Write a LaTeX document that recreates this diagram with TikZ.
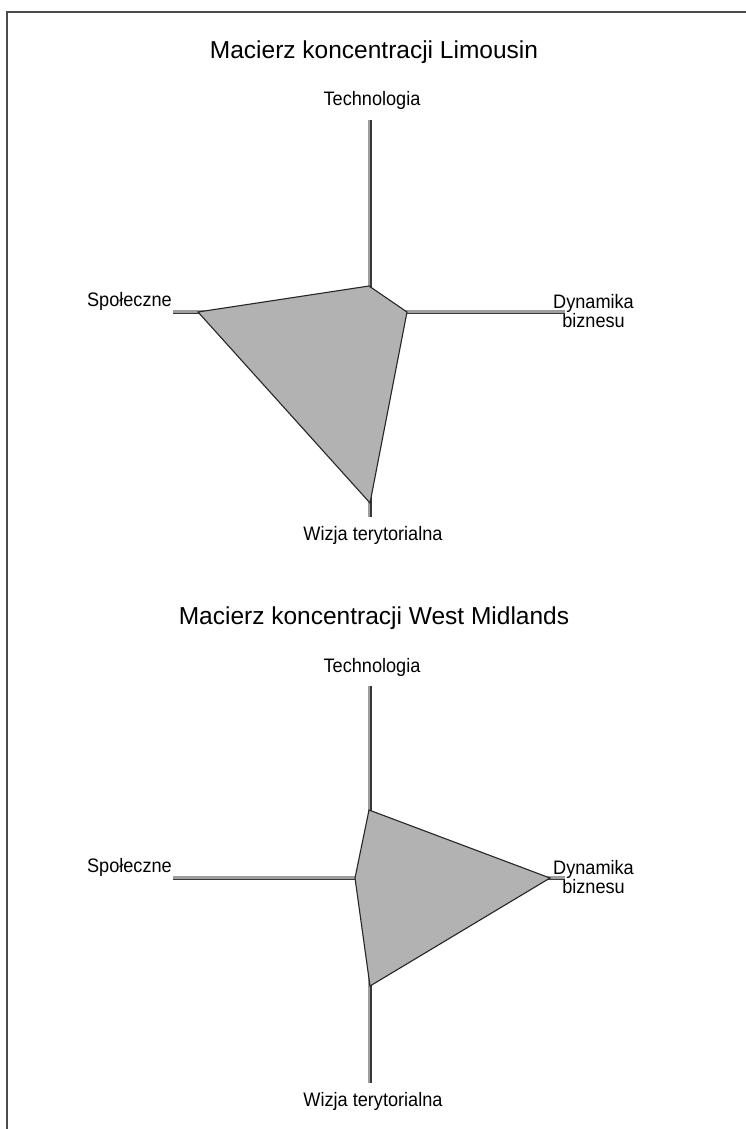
\documentclass[tikz,border=0pt]{standalone}
\usepackage{fontspec}
\setmainfont{Liberation Sans}
\newcommand{\narrowtext}[1]{\scalebox{0.93}[1]{#1}}
\begin{document}
\begin{tikzpicture}[x=1pt,y=-1pt,
  titletext/.style={inner sep=0pt,anchor=base,font=\fontsize{24.5}{28}\selectfont},
  axislabel/.style={inner sep=0pt,font=\fontsize{19.5}{20}\selectfont},
  axisshade/.style={draw=black!38,line width=2.4pt},
  axiscore/.style={draw=black!78,line width=1.6pt},
  area/.style={fill=black!30,draw=black!85,line width=1.1pt,line join=miter}]
\useasboundingbox (0,0) rectangle (746,1129);
\fill[white] (0,0) rectangle (746,1129);
% frame along the top and left edges
\draw[black!70,line width=1.5pt] (7,1129) -- (7,12) -- (746,12);

% one chart per row: vertical offset, title, polygon vertices (top, right, bottom, left)
\foreach \dy/\ttl/\ta/\ra/\ba/\la/\tag in {
   0/{Macierz koncentracji Limousin}/286/407/503/198/a,
   566/{Macierz koncentracji West Midlands}/244/550/420/355/b}{
  \begin{scope}[yshift=-\dy pt]
    \node[titletext] (title\tag) at (374,58.5) {\ttl};
    \node[axislabel,anchor=base] (tech\tag) at (372,106) {\narrowtext{Technologia}};
    \node[axislabel,anchor=base east] (spol\tag) at (172,306) {\narrowtext{Społeczne}};
    \node[axislabel,anchor=base west] (dyn\tag) at (553,308) {\narrowtext{Dynamika}};
    \node[axislabel,anchor=base] (biz\tag) at (dyn\tag.base) [yshift=-19pt] {\narrowtext{biznesu}};
    \node[axislabel,anchor=base] (wiz\tag) at (373,540) {\narrowtext{Wizja terytorialna}};
    % axis end points
    \coordinate (n\tag) at (370,120);
    \coordinate (s\tag) at (370,517);
    \coordinate (w\tag) at (173,312.5);
    \coordinate (e\tag) at (565,312.5);
    \draw[axisshade] ([xshift=-0.9pt]n\tag) -- ([xshift=-0.9pt]s\tag);
    \draw[axiscore] ([xshift=0.8pt]n\tag) -- ([xshift=0.8pt]s\tag);
    \draw[axisshade] ([yshift=0.9pt]w\tag) -- ([yshift=0.9pt]e\tag);
    \draw[axiscore] ([yshift=-0.8pt]w\tag) -- ([yshift=-0.8pt]e\tag);
    % polygon vertices on the four axes
    \coordinate (pt\tag) at (369,\ta);
    \coordinate (pr\tag) at (\ra,312);
    \coordinate (pb\tag) at (370,\ba);
    \coordinate (pl\tag) at (\la,312);
    \draw[area] (pt\tag) -- (pr\tag) -- (pb\tag) -- (pl\tag) -- cycle;
  \end{scope}}
\end{tikzpicture}
\end{document}
